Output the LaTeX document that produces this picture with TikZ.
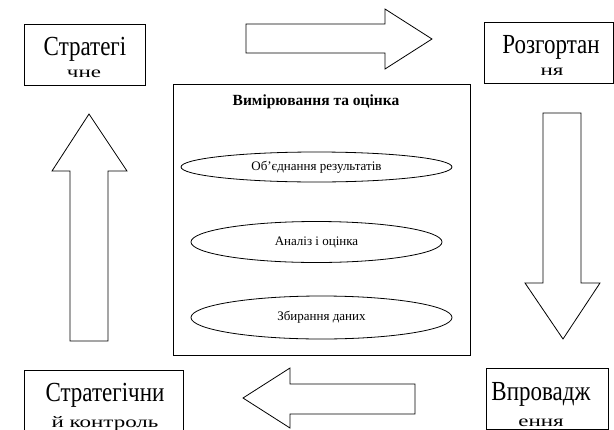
\documentclass[tikz,border=0pt]{standalone}
\usepackage{graphicx}
\usepackage{fontspec}
\setmainfont{Liberation Serif}
\usetikzlibrary{shapes.geometric}
\newcommand{\tallline}[1]{\scalebox{1}[1.2]{#1}}
\newcommand{\flatline}[1]{\scalebox{1}[0.7]{#1}}
\begin{document}
\begin{tikzpicture}[x=1pt, y=-1pt,
stage/.style={draw, line width=0.9pt, minimum width=#1, minimum height=61pt, inner sep=0pt},
stagetext/.style={anchor=base, inner sep=0pt, font=\fontsize{23}{23}\selectfont},
phase/.style={draw, ellipse, line width=0.8pt, inner sep=0pt, font=\fontsize{13}{13}\selectfont},
blockarrow/.style={draw, line width=0.8pt, line join=miter}]
\useasboundingbox (0,0) rectangle (614,429);
% four stages
\node[stage=121pt] (plan) at (84.5,54.5) {};
\node[stage=129pt] (deploy) at (548.5,53) {};
\node[stage=159pt] (control) at (103.5,400.5) {};
\node[stage=122pt] (impl) at (547,398.5) {};
\node[stagetext] (plan1) at (85,55) {\tallline{Стратегі}};
\node[stagetext] (plan2) at (84,77) {\flatline{чне}};
\node[stagetext] (deploy1) at (551,53) {\tallline{Розгортан}};
\node[stagetext] (deploy2) at (552,75) {\flatline{ня}};
\node[stagetext] (control1) at (105,401) {\tallline{Стратегічни}};
\node[stagetext] (control2) at (105,427) {\flatline{й контроль}};
\node[stagetext] (impl1) at (541,400) {\tallline{Впровадж}};
\node[stagetext] (impl2) at (541,426) {\flatline{ення}};
% measurement block
\node[draw, line width=0.9pt, minimum width=297pt, minimum height=271pt, inner sep=0pt] (measure) at (321.5,219.5) {};
\node[anchor=base, inner sep=0pt, font=\bfseries\fontsize{15.5}{16}\selectfont] (title) at (316,105) {Вимірювання та оцінка};
\node[phase, minimum width=271pt, minimum height=30pt] (merge) at (316.5,167) {Об’єднання результатів};
\node[phase, minimum width=251pt, minimum height=41pt] (analyse) at (316.5,242) {Аналіз і оцінка};
\node[phase, minimum width=261pt, minimum height=43pt] (collect) at (321.5,317.5) {Збирання даних};
% block arrows
\draw[blockarrow] (246,24) -- (385,24) -- (385,9) -- (432,39) -- (385,69) -- (385,53) -- (246,53) -- cycle;
\draw[blockarrow] (543,113) -- (581,113) -- (581,283) -- (600,283) -- (563,339) -- (525,283) -- (543,283) -- cycle;
\draw[blockarrow] (415,384) -- (290,384) -- (290,368) -- (243,398) -- (290,428) -- (290,414) -- (415,414) -- cycle;
\draw[blockarrow] (70,341) -- (70,171) -- (52,171) -- (89,114) -- (127,171) -- (108,171) -- (108,341) -- cycle;
\end{tikzpicture}
\end{document}
